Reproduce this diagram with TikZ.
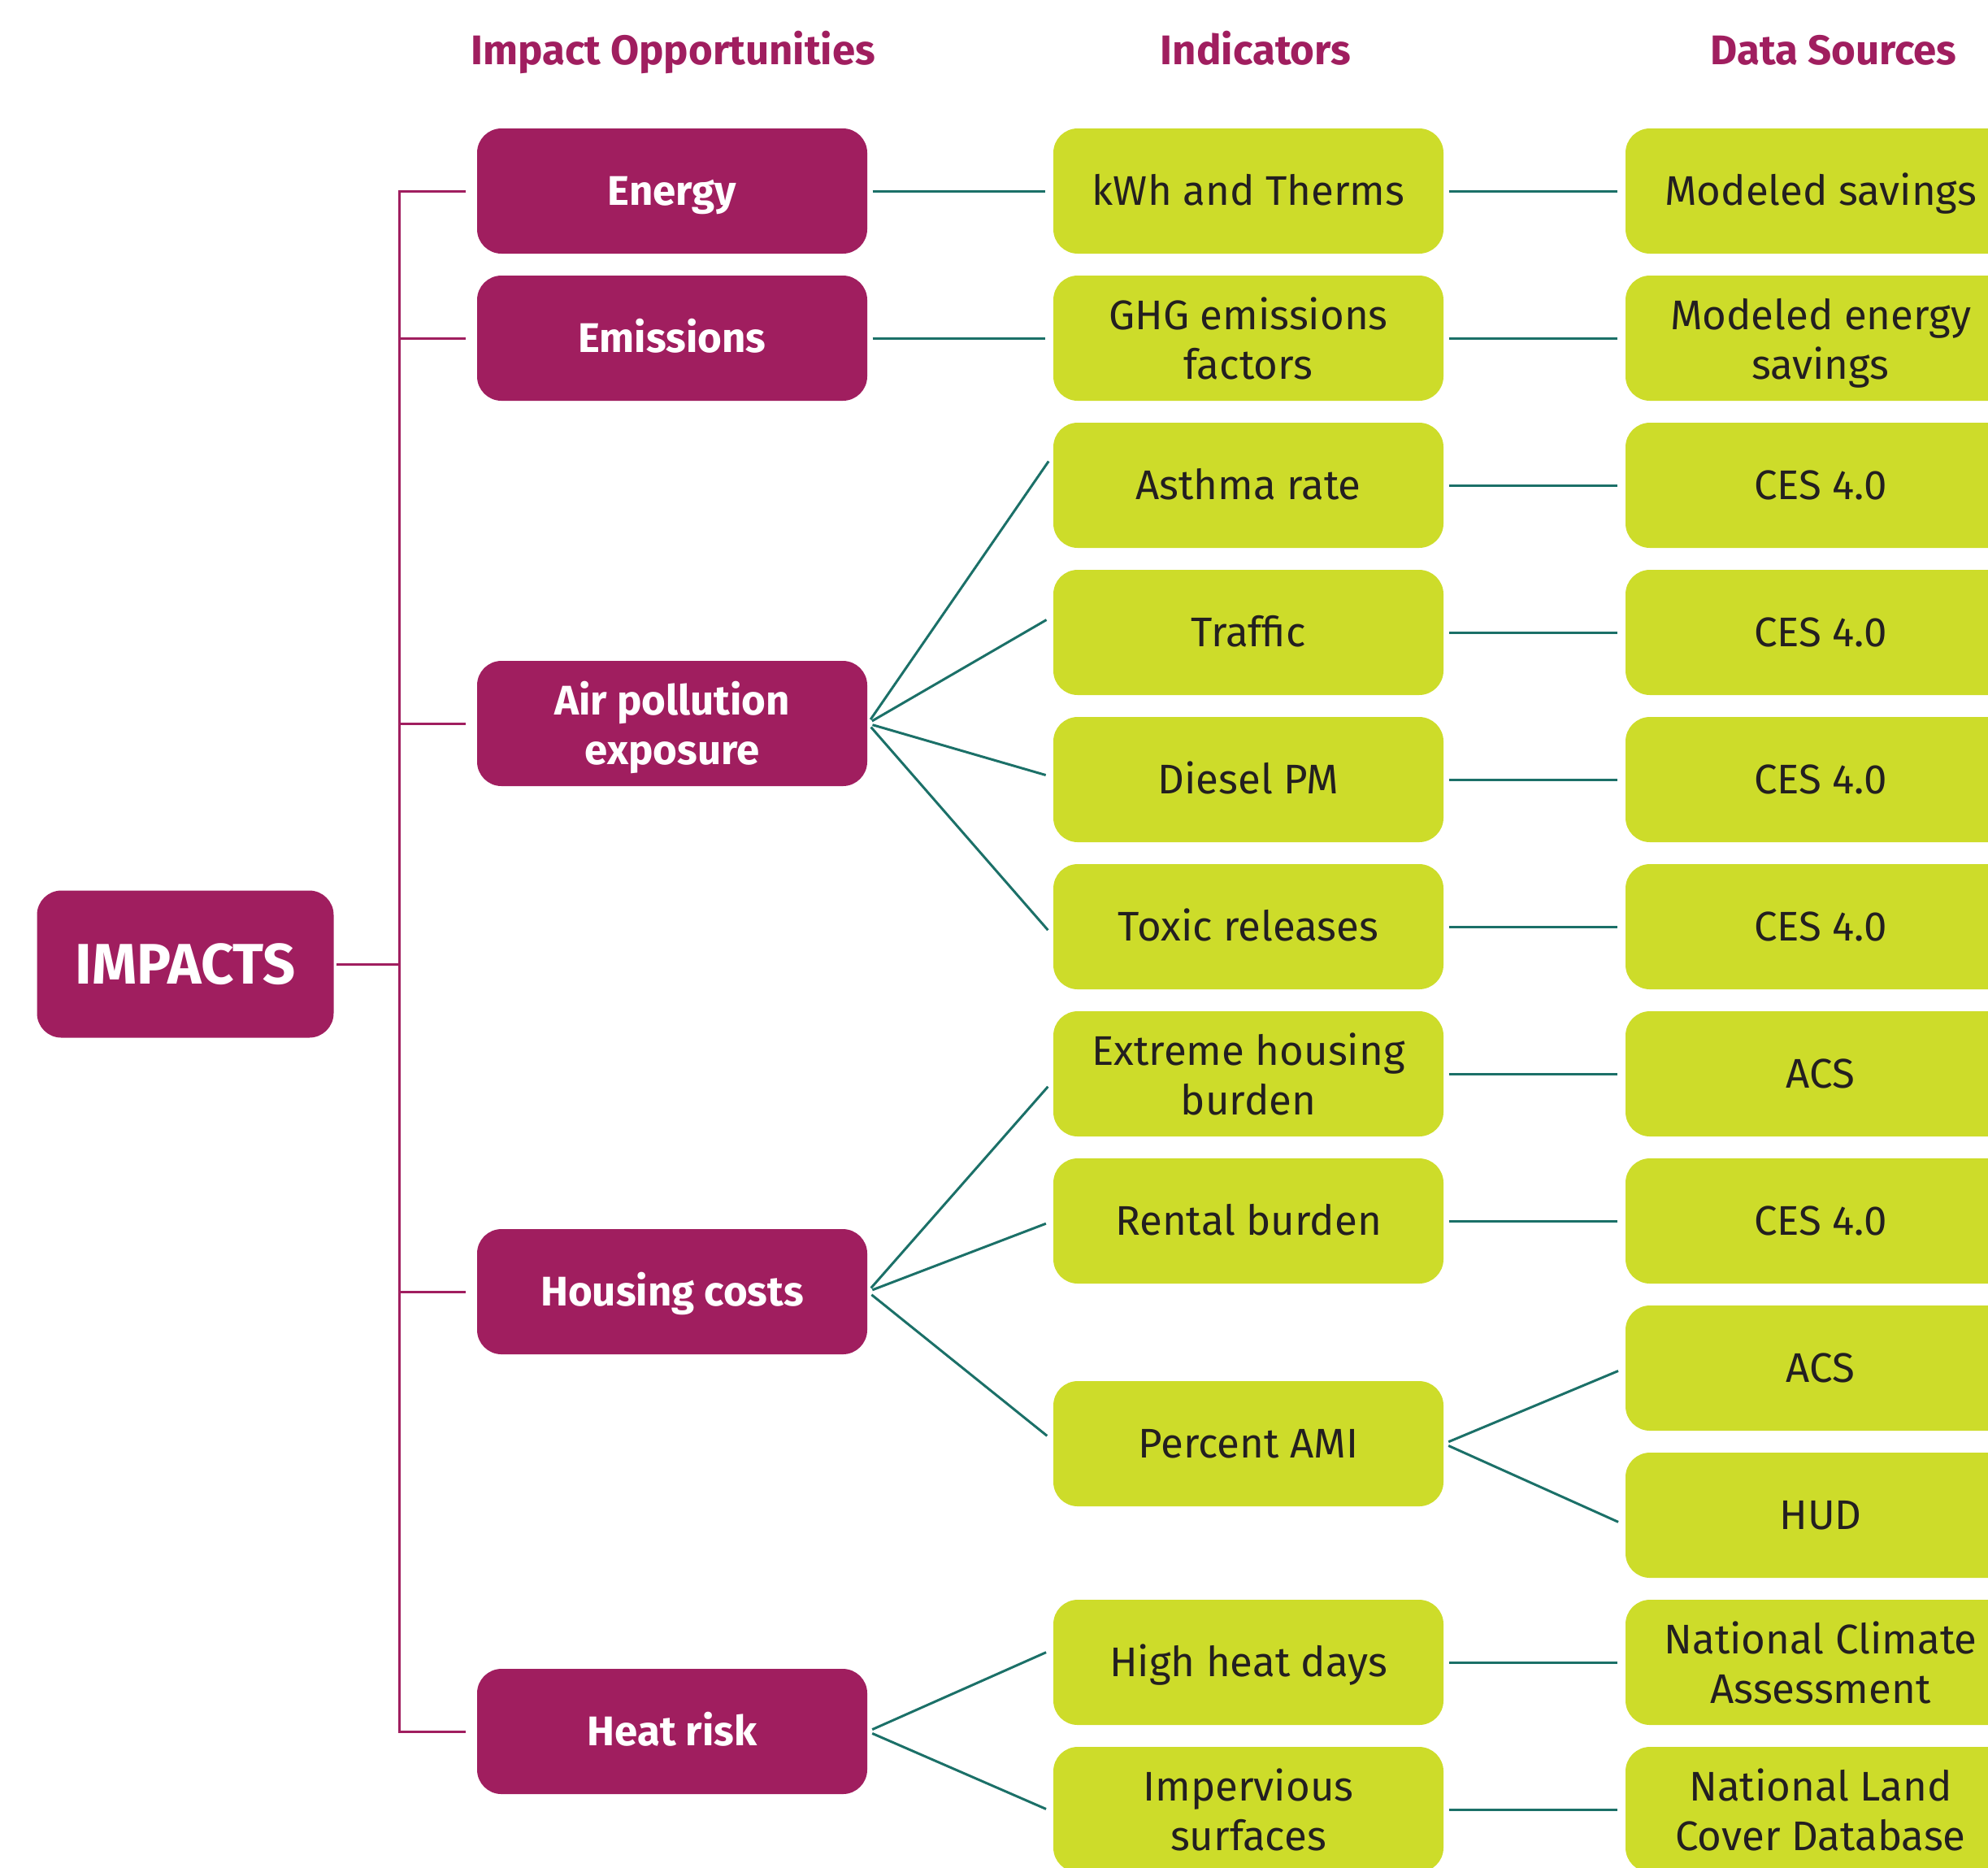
\documentclass[tikz,border=0pt]{standalone}
\usepackage{fontspec}
\setmainfont{Fira Sans}
\usetikzlibrary{positioning}

\definecolor{plum}{HTML}{A01E5F}
\definecolor{lime}{HTML}{CDDC2A}
\definecolor{teal9}{HTML}{1B7068}
\definecolor{ink}{HTML}{231F20}
\newcommand{\boxstrut}{\rule[-0.28em]{0pt}{1.25em}}
\newcommand{\toprow}{\rule{0pt}{1.05em}}

\begin{document}
\begin{tikzpicture}[node distance={18.1mm},
  head/.style = {text=plum, execute at begin node=\boxstrut, font=\fontsize{14.5}{17}\selectfont\bfseries},
  opp/.style = {fill=plum, text=white, rounded corners=3mm, minimum width=48mm, minimum height=15.4mm, align=center, execute at begin node=\boxstrut, execute at end node=\boxstrut, font=\fontsize{14.5}{17.4}\selectfont\bfseries},
  ind/.style = {fill=lime, text=ink, rounded corners=3mm, minimum width=48mm, minimum height=15.4mm, align=center, execute at begin node=\boxstrut, execute at end node=\boxstrut, font=\fontsize{14.5}{17.4}\selectfont},
  pline/.style = {draw=plum, line width=0.85pt},
  tline/.style = {draw=teal9, line width=0.85pt, shorten <=0.6mm, shorten >=0.9mm}]
\useasboundingbox (0,0) rectangle (244.6mm,-229.7mm);

% column heads
\node[head] (h1) at (82.8mm,-6.2mm) {Impact Opportunities};
\node[head] (h2) at (154.5mm,-6.2mm) {Indicators};
\node[head] (h3) at (225.6mm,-6.2mm) {Data Sources};

% data sources
\node[ind] (mod9) at (224mm,-23.5mm) {Modeled savings};
\node[ind] (mode9) [below of=mod9] {\toprow Modeled energy\\savings\boxstrut};
\node[ind] (ces1) [below of=mode9] {CES 4.0};
\node[ind] (ces2) [below of=ces1] {CES 4.0};
\node[ind] (ces3) [below of=ces2] {CES 4.0};
\node[ind] (ces4) [below of=ces3] {CES 4.0};
\node[ind] (acs1) [below of=ces4] {ACS};
\node[ind] (ces5) [below of=acs1] {CES 4.0};
\node[ind] (acs2) [below of=ces5] {ACS};
\node[ind] (hud9) [below of=acs2] {HUD};
\node[ind] (nca9) [below of=hud9] {\toprow National Climate\\Assessment\boxstrut};
\node[ind] (nlcd9) [below of=nca9] {\toprow National Land\\Cover Database\boxstrut};

% indicators
\node[ind] (kwh9) [left of=mod9, node distance=70.4mm] {kWh and Therms};
\node[ind] (ghg9) [below of=kwh9] {\toprow GHG emissions\\factors\boxstrut};
\node[ind] (ast9) [below of=ghg9] {Asthma rate};
\node[ind] (tra9) [below of=ast9] {Traffic};
\node[ind] (die9) [below of=tra9] {Diesel PM};
\node[ind] (tox9) [below of=die9] {Toxic releases};
\node[ind] (ext9) [below of=tox9] {\toprow Extreme housing\\burden\boxstrut};
\node[ind] (ren9) [below of=ext9] {Rental burden};
\node[ind] (ami9) at (153.6mm,-177.6mm) {Percent AMI};
\node[ind] (hot9) [left of=nca9, node distance=70.4mm] {High heat days};
\node[ind] (imp9) [left of=nlcd9, node distance=70.4mm] {\toprow Impervious\\surfaces\boxstrut};

% impact opportunities
\node[opp] (en9) [left of=kwh9, node distance=70.9mm] {Energy};
\node[opp] (em9) [left of=ghg9, node distance=70.9mm] {Emissions};
\node[opp] (air9) at (82.7mm,-89mm) {\toprow Air pollution\\exposure\boxstrut};
\node[opp] (hou9) at (82.7mm,-158.9mm) {Housing costs};
\node[opp] (heat9) at (82.7mm,-213mm) {Heat risk};
\node[opp, minimum width=36.5mm, minimum height=18.1mm, font=\fontsize{20}{24}\selectfont\bfseries] (root9) at (22.8mm,-118.6mm) {IMPACTS};

% bracket
\coordinate (bar9) at (49.1mm,-118.6mm);
\draw[pline] ([xshift=0.3mm]root9.east) -- (bar9);
\draw[pline] ([xshift=-1.3mm]en9.west) -| (bar9) |- ([xshift=-1.3mm]heat9.west);
\foreach \n in {em9, air9, hou9}
  \draw[pline] (bar9 |- \n.west) -- ([xshift=-1.3mm]\n.west);

% indicators to opportunities
\draw[tline] (en9) -- (kwh9);
\draw[tline] (em9) -- (ghg9);
\draw[tline] (air9.east) -- ([yshift=3.7mm]ast9.west);
\draw[tline] (air9.east) -- ([yshift=2mm]tra9.west);
\draw[tline] (air9.east) -- ([yshift=0.3mm]die9.west);
\draw[tline] (air9.east) -- ([yshift=-1.1mm]tox9.west);
\draw[tline] (hou9.east) -- ([yshift=-0.9mm]ext9.west);
\draw[tline] (hou9.east) -- (ren9.west);
\draw[tline] (hou9.east) -- ([yshift=0.4mm]ami9.west);
\draw[tline] (heat9.east) -- ([yshift=1.6mm]hot9.west);
\draw[tline] (heat9.east) -- ([yshift=-0.3mm]imp9.west);

% indicators to sources
\draw[tline] (kwh9) -- (mod9);
\draw[tline] (ghg9) -- (mode9);
\draw[tline] (ast9) -- (ces1);
\draw[tline] (tra9) -- (ces2);
\draw[tline] (die9) -- (ces3);
\draw[tline] (tox9) -- (ces4);
\draw[tline] (ext9) -- (acs1);
\draw[tline] (ren9) -- (ces5);
\draw[tline] (ami9.east) -- (acs2.west);
\draw[tline] (ami9.east) -- ([yshift=-1.2mm]hud9.west);
\draw[tline] (hot9) -- (nca9);
\draw[tline] (imp9) -- (nlcd9);

\end{tikzpicture}
\end{document}
